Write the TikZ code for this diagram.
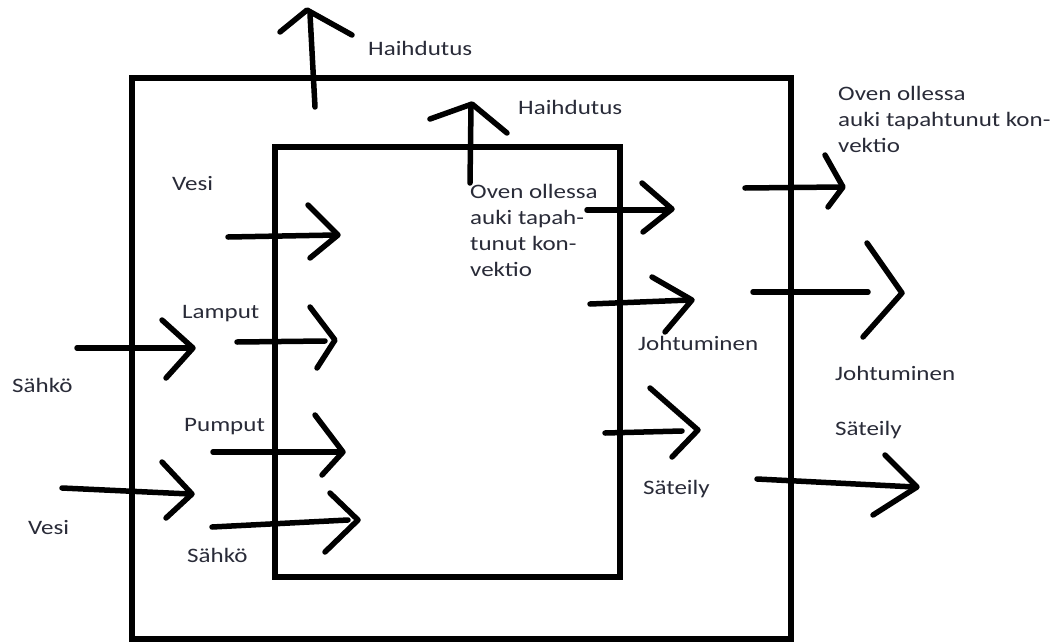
\documentclass[tikz,border=0pt]{standalone}
\usepackage{fontspec}
\setmainfont{Carlito}[FakeStretch=1.22]
\definecolor{txt}{rgb}{0.16,0.17,0.22}
\newcommand\harr[6]{%
  \coordinate (#1-s) at #2; \coordinate (#1-e) at #3;
  \coordinate (#1-u) at #4; \coordinate (#1-t) at #5; \coordinate (#1-l) at #6;
  \draw[stroke] (#1-s) -- (#1-e);
  \draw[stroke] (#1-u) -- (#1-t) -- (#1-l);}
\begin{document}
\begin{tikzpicture}[x=1pt,y=-1pt,
  stroke/.style={line width=5.5pt,line cap=round,line join=round,black},
  boxline/.style={line width=6pt,black},
  lbl/.style={inner sep=0pt,anchor=base west,text=txt,font=\fontsize{20.5}{26}\selectfont,align=left},
  mlbl/.style={lbl,anchor=north west}]
\useasboundingbox (0,0) rectangle (1061,643);
\fill[white] (0,0) rectangle (1061,643);
% boxes
\draw[boxline] (132,78) rectangle (791,639);
\draw[boxline] (275,147) rectangle (620,577);
% arrows
\harr{a1}{(315,107)}{(310,14)}{(280,32)}{(307,10)}{(352,35)}
\harr{a2}{(470,183)}{(471,107)}{(430,119)}{(472,104)}{(507,133)}
\harr{a3}{(587,210)}{(670,210)}{(642,183)}{(672,209)}{(643,232)}
\harr{a4}{(590,304)}{(690,300)}{(652,277)}{(692,300)}{(665,332)}
\harr{a5}{(605,433)}{(682,431)}{(650,388)}{(698,430)}{(672,457)}
\harr{a6}{(745,188)}{(840,187)}{(825,155)}{(843,187)}{(828,207)}
\harr{a7}{(753,292)}{(868,292)}{(867,243)}{(902,293)}{(863,337)}
\harr{a8}{(757,479)}{(915,487)}{(885,455)}{(917,487)}{(873,515)}
\harr{a9}{(77,348)}{(191,348)}{(162,320)}{(193,348)}{(166,378)}
\harr{a10}{(62,488)}{(190,494)}{(162,462)}{(192,494)}{(166,518)}
\harr{a11}{(228,237)}{(336,235)}{(308,205)}{(338,235)}{(310,258)}
\harr{a12}{(237,342)}{(325,341)}{(310,307)}{(335,340)}{(317,368)}
\harr{a13}{(213,452)}{(341,452)}{(315,415)}{(343,452)}{(322,475)}
\harr{a14}{(212,527)}{(348,520)}{(330,493)}{(358,520)}{(325,552)}
% labels
\node[lbl] (h1) at (368,55) {Haihdutus};
\node[lbl] (h2) at (518,114) {Haihdutus};
\node[mlbl] (c1) at (470,184) {Oven ollessa\\auki tapah-\\tunut kon-\\vektio};
\node[mlbl] (c2) at (838,86) {Oven ollessa\\auki tapahtunut kon-\\vektio};
\node[lbl] (v1) at (172,190) {Vesi};
\node[lbl] (l1) at (182,318) {Lamput};
\node[lbl] (p1) at (184,431) {Pumput};
\node[lbl] (s1) at (187,562) {Sähkö};
\node[lbl] (s2) at (12,392) {Sähkö};
\node[lbl] (v2) at (28,534) {Vesi};
\node[lbl] (j1) at (638,350) {Johtuminen};
\node[lbl] (t1) at (643,494) {Säteily};
\node[lbl] (j2) at (835,380) {Johtuminen};
\node[lbl] (t2) at (835,435) {Säteily};
\end{tikzpicture}
\end{document}
